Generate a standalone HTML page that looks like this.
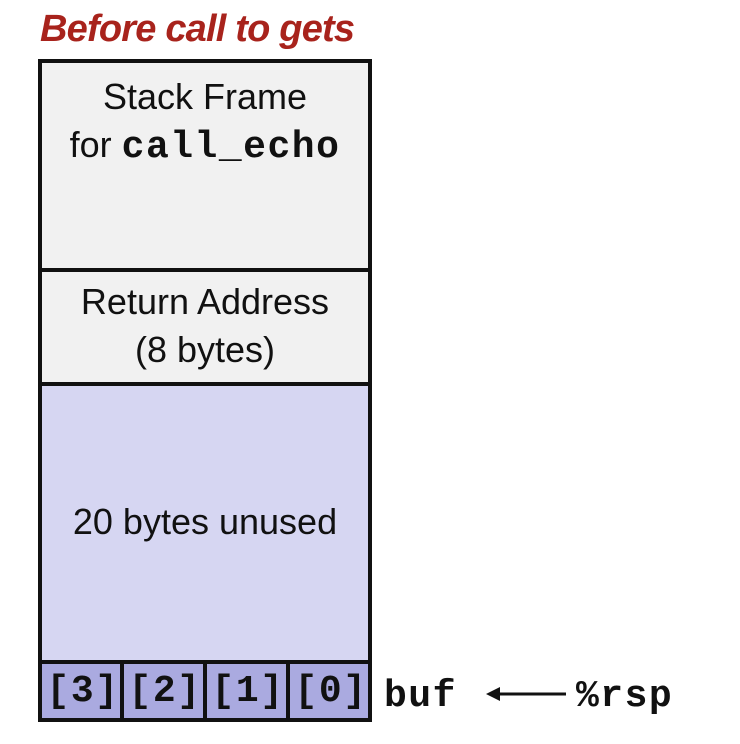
<!DOCTYPE html>
<html><head><style>
body{margin:0;width:740px;height:744px;background:#fff;position:relative;font-family:"Liberation Sans",sans-serif;overflow:hidden}
.a{position:absolute;box-sizing:border-box}
.t{text-align:center;color:#111;font-size:36px;line-height:48px;white-space:nowrap}
.m{font-family:"Liberation Mono",monospace;font-weight:bold;font-size:38px;letter-spacing:1.5px}
</style></head><body>
<div class="a" style="left:40px;top:8px;color:#a8231c;font-weight:bold;font-style:italic;font-size:38px;letter-spacing:-0.8px;white-space:nowrap">Before call to gets</div>
<div class="a" style="left:38px;top:59px;width:334px;height:663px;border:4px solid #111;background:#f1f1f1"></div>
<div class="a" style="left:38px;top:268px;width:334px;height:4px;background:#111"></div>
<div class="a" style="left:42px;top:382px;width:326px;height:281px;background:#d6d6f2;border-top:4px solid #111"></div>
<div class="a" style="left:38px;top:660px;width:334px;height:62px;border:4px solid #111;background:#aaaae0"></div>
<div class="a" style="left:120px;top:660px;width:4px;height:62px;background:#111"></div>
<div class="a" style="left:203px;top:660px;width:4px;height:62px;background:#111"></div>
<div class="a" style="left:286px;top:660px;width:4px;height:62px;background:#111"></div>
<div class="a t" style="left:38px;top:73px;width:334px">Stack Frame<br>for <span class="m">call_echo</span></div>
<div class="a t" style="left:38px;top:278px;width:334px">Return Address<br>(8 bytes)</div>
<div class="a t" style="left:38px;top:498px;width:334px">20 bytes unused</div>
<div class="a t m" style="left:42px;top:668px;width:80px;padding-left:2px">[3]</div>
<div class="a t m" style="left:124px;top:668px;width:80px;padding-left:2px">[2]</div>
<div class="a t m" style="left:207px;top:668px;width:80px;padding-left:2px">[1]</div>
<div class="a t m" style="left:290px;top:668px;width:80px;padding-left:2px">[0]</div>
<div class="a m" style="left:384px;top:675px;line-height:44px;color:#111">buf</div>
<svg class="a" style="left:480px;top:682px" width="90" height="24"><line x1="14" y1="12" x2="86" y2="12" stroke="#111" stroke-width="3"/><polygon points="6,12 20,5 20,19" fill="#111"/></svg>
<div class="a m" style="left:576px;top:675px;line-height:44px;color:#111">%rsp</div>
</body></html>
